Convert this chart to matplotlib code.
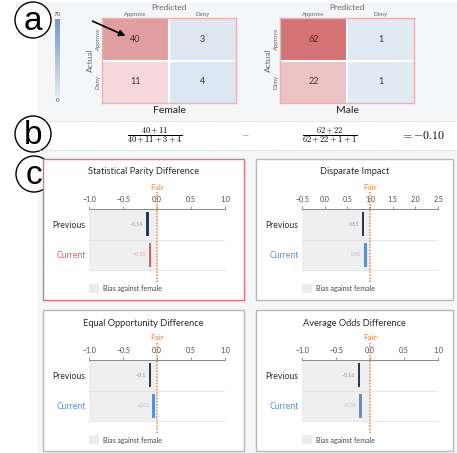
import numpy as np
import matplotlib.pyplot as plt
from matplotlib.colors import LinearSegmentedColormap
from matplotlib.patches import Circle, Rectangle

plt.rcParams['font.family'] = ['Lato', 'DejaVu Sans']
plt.rcParams['mathtext.fontset'] = 'cm'

# confusion matrices (rows: actual approve/deny, cols: predicted approve/deny)
female_cm = np.array([[40, 3], [11, 4]])
male_cm = np.array([[62, 1], [22, 1]])
cm_labels = ['Approve', 'Deny']
cm_max = 70

# fairness metrics
metric_names = ['Statistical Parity Difference', 'Disparate Impact',
                'Equal Opportunity Difference', 'Average Odds Difference']
previous = [-0.14, 0.85, -0.1, -0.16]
current = [-0.10, 0.90, -0.05, -0.14]
previous_txt = ['\u22120.14', '0.85', '\u22120.1', '\u22120.16']
current_txt = ['\u22120.10', '0.90', '\u22120.05', '\u22120.14']
fair_value = [0.0, 1.0, 0.0, 0.0]
x_ranges = [(-1.0, 1.0), (-0.5, 2.5), (-1.0, 1.0), (-1.0, 1.0)]
x_ticks = [[-1.0, -0.5, 0.0, 0.5, 1.0], [-0.5, 0.0, 0.5, 1.0, 1.5, 2.0, 2.5],
           [-1.0, -0.5, 0.0, 0.5, 1.0], [-1.0, -0.5, 0.0, 0.5, 1.0]]
result = -0.10

W, H = 457, 453
fig = plt.figure(figsize=(W / 100, H / 100), dpi=100)


def px_axes(x0, y0, x1, y1, **kw):
    return fig.add_axes([x0 / W, 1 - y1 / H, (x1 - x0) / W, (y1 - y0) / H], **kw)


bg = px_axes(0, 0, W, H)
bg.set_xlim(0, W)
bg.set_ylim(H, 0)
bg.axis('off')

panel_bg = '#f5f6f8'
bg.add_patch(Rectangle((38, 2), W - 38, 119, color=panel_bg, lw=0))
bg.add_patch(Rectangle((38, 150), W - 38, H - 150, color=panel_bg, lw=0))
bg.plot([38, W], [121, 121], color='#c8c8c8', lw=0.6, ls=(0, (1, 1)))
bg.plot([38, W], [150, 150], color='#c8c8c8', lw=0.6, ls=(0, (1, 1)))

for (cx, cy), letter in zip([(33, 20), (33, 134), (34, 174)], 'abc'):
    bg.add_patch(Circle((cx, cy), 18, facecolor='white', edgecolor='black', lw=1.0))
    bg.text(cx, cy + 1, letter, fontsize=24, ha='center', va='center',
            family='Liberation Sans')

# ---- panel a: confusion matrices
reds = LinearSegmentedColormap.from_list('reds', ['#fbeef0', '#cf6466'])
blues = LinearSegmentedColormap.from_list('blues', ['#e3eaf4', '#6b9bd2'])

cbar = px_axes(55, 19, 60, 97)
cbar.imshow(np.linspace(1, 0, 100)[:, None], cmap=blues, aspect='auto')
cbar.set_xticks([])
cbar.set_yticks([])
for s in cbar.spines.values():
    s.set_visible(False)
bg.text(57.5, 15, str(cm_max), fontsize=4.5, ha='center', va='center', color='#555')
bg.text(57.5, 101, '0', fontsize=4.5, ha='center', va='center', color='#555')


def draw_cm(ax, cm, name):
    rgba = np.zeros((2, 2, 4))
    rgba[:, 0] = reds(cm[:, 0] / cm_max)
    rgba[:, 1] = blues(cm[:, 1] / cm_max)
    ax.imshow(rgba, aspect='auto')
    ax.axvline(0.5, color='white', lw=1.5)
    ax.axhline(0.5, color='white', lw=1.5)
    for i in range(2):
        for j in range(2):
            ax.text(j, i, str(cm[i, j]), ha='center', va='center', fontsize=6.5, color='#333')
    ax.xaxis.tick_top()
    ax.xaxis.set_label_position('top')
    ax.set_xticks([0, 1])
    ax.set_xticklabels(cm_labels, fontsize=4.3, color='#666')
    ax.set_yticks([0, 1])
    ax.set_yticklabels(cm_labels, fontsize=4.3, color='#666', rotation=90, va='center')
    ax.tick_params(length=0, pad=1)
    ax.set_xlabel('Predicted', fontsize=6, color='#666', labelpad=1)
    ax.set_ylabel('Actual', fontsize=6, color='#666', labelpad=1)
    for s in ax.spines.values():
        s.set_color('#f0b0b0')
        s.set_linewidth(1.0)
    ax.text(0.5, -0.03, name, transform=ax.transAxes, ha='center', va='top',
            fontsize=7.5, color='#222')


draw_cm(px_axes(102, 18, 236, 103), female_cm, 'Female')
draw_cm(px_axes(280, 18, 414, 103), male_cm, 'Male')

# ---- panel b: formula
bg.text(155, 135, r'$\dfrac{40+11}{40+11+3+4}$', fontsize=6, ha='center', va='center')
bg.text(245, 134, r'$-$', fontsize=7, ha='center', va='center', color='#555')
bg.text(330, 135, r'$\dfrac{62+22}{62+22+1+1}$', fontsize=6, ha='center', va='center')
bg.text(423, 135, r'$= %.2f$' % result, fontsize=8.5, ha='center', va='center')

# ---- panel c: metric cards
cards = [(43, 159), (256, 159), (43, 310), (256, 310)]
orange = '#e8833a'
for k, (cx, cy) in enumerate(cards):
    selected = k == 0
    cw = 201 if cx < 100 else 197
    bg.add_patch(Rectangle((cx, cy), cw, 141, facecolor='white',
                           edgecolor='#e07575' if selected else '#b8b8b8', lw=1.0))
    bg.text(cx + cw / 2, cy + 13, metric_names[k], fontsize=6.7, ha='center',
            va='center', color='#262b33')
    cur_col = '#d9605c' if selected else '#5b8fd6'
    cur_light = '#eaa3a1' if selected else '#a9c2e6'

    x0 = cx + 46
    ax = px_axes(x0, cy + 50, x0 + 136, cy + 111)
    xmin, xmax = x_ranges[k]
    span = xmax - xmin
    ax.set_xlim(xmin, xmax)
    ax.set_ylim(2, 0)
    ax.axvspan(xmin, fair_value[k], color='#efefef', lw=0, zorder=0)
    ax.axhline(1, color='#e2e2e2', lw=0.6)
    ax.axhline(2, color='#e2e2e2', lw=0.6, clip_on=False)
    bw = 2.5 * span / 136
    ax.bar([previous[k]], [0.78], bottom=0.1, width=bw, color='#2c3a4c', zorder=3)
    ax.bar([current[k]], [0.8], bottom=1.1, width=bw, color=cur_col, zorder=3)
    gap = 4 * span / 136
    ax.text(previous[k] - gap, 0.5, previous_txt[k], ha='right', va='center',
            fontsize=3.8, color='#999')
    ax.text(current[k] - gap, 1.5, current_txt[k], ha='right', va='center',
            fontsize=3.8, color=cur_light)
    ax.axvline(fair_value[k], ymin=-12 / 61, ymax=1 + 17 / 61, color=orange,
               lw=1.1, ls=(0, (1, 1)), clip_on=False, zorder=4)
    ax.text(fair_value[k], 1 + 22 / 61, 'Fair', transform=ax.get_xaxis_transform(),
            ha='center', va='center', fontsize=6, color=orange)

    ax.xaxis.tick_top()
    ax.set_xticks(x_ticks[k])
    ax.set_xticklabels(['%.1f' % t if t >= 0 else '\u2212%.1f' % -t for t in x_ticks[k]])
    ax.tick_params(axis='x', direction='out', length=2.5, width=0.6, color='#888',
                   labelsize=5, labelcolor='#444', pad=1.5)
    ax.set_yticks([0.5, 1.5])
    ax.set_yticklabels(['Previous', 'Current'], fontsize=6.2)
    ax.tick_params(axis='y', length=0, pad=2.5)
    ax.get_yticklabels()[0].set_color('#2b2f36')
    ax.get_yticklabels()[1].set_color(cur_col)
    for side in ['left', 'right', 'bottom']:
        ax.spines[side].set_visible(False)
    ax.spines['top'].set_color('#888')
    ax.spines['top'].set_linewidth(0.7)
    ax.patch.set_alpha(0)

    bg.add_patch(Rectangle((x0, cy + 125), 10, 9, color='#ececec', lw=0))
    bg.text(x0 + 14, cy + 130, 'Bias against female', fontsize=5, va='center', color='#444')

# arrow on top of the female matrix
top = px_axes(0, 0, W, H)
top.set_xlim(0, W)
top.set_ylim(H, 0)
top.axis('off')
top.annotate('', xy=(128, 37), xytext=(90, 20),
             arrowprops=dict(arrowstyle='-|>', color='black', lw=1.2, mutation_scale=9))

fig.savefig('out.png', dpi=100)
